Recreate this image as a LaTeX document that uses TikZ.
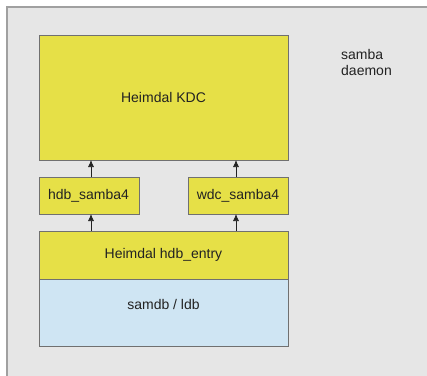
\documentclass[tikz,border=0pt]{standalone}
\usepackage{fontspec}
\setmainfont{Liberation Sans}
\usetikzlibrary{arrows.meta}
\definecolor{bggray}{HTML}{E6E6E6}
\definecolor{framegray}{HTML}{A0A0A0}
\definecolor{boxyellow}{HTML}{E6E047}
\definecolor{boxblue}{HTML}{CFE5F3}
\definecolor{boxline}{HTML}{707070}
\definecolor{txt}{HTML}{222222}
\tikzset{
  blk/.style={draw=boxline, line width=1pt, fill=boxyellow},
  lbl/.style={font=\fontsize{14}{16.5}\selectfont, text=txt, inner sep=0pt},
  arr/.style={draw=txt, line width=0.7pt, -{Latex[length=7pt,width=6pt]}}
}
\begin{document}
\begin{tikzpicture}[x=1pt,y=-1pt]
\useasboundingbox (0,0) rectangle (427,375);
\fill[white] (0,0) rectangle (427,375);
\fill[bggray] (7,7) rectangle (428,376);
\draw[framegray, line width=1.5pt] (7,376) -- (7,7) -- (428,7);
% blocks
\path[blk] (39,35) rectangle (288,160);
\node[lbl] (kdc) at (163.5,97) {Heimdal KDC};
\path[blk] (39,177) rectangle (139,214);
\node[lbl] (hdb) at (88.5,195.5) {hdb\_samba4};
\path[blk] (188,177) rectangle (288,214);
\node[lbl] (wdc) at (238,195.5) {wdc\_samba4};
\path[blk] (39,231) rectangle (288,279);
\node[lbl] (entry) at (163.5,255) {Heimdal hdb\_entry};
\path[blk, fill=boxblue] (39,279) rectangle (288,346);
\node[lbl] (samdb) at (163.5,304) {samdb / ldb};
\node[lbl, align=left, anchor=north west] (daemon) at (341,49) {samba\\daemon};
% arrows
\coordinate (a1s) at (91,231); \coordinate (a1e) at (91,214);
\coordinate (a2s) at (91,177); \coordinate (a2e) at (91,160);
\coordinate (b1s) at (236,231); \coordinate (b1e) at (236,214);
\coordinate (b2s) at (236,177); \coordinate (b2e) at (236,160);
\draw[arr] (a1s) -- (a1e);
\draw[arr] (a2s) -- (a2e);
\draw[arr] (b1s) -- (b1e);
\draw[arr] (b2s) -- (b2e);
\end{tikzpicture}
\end{document}
